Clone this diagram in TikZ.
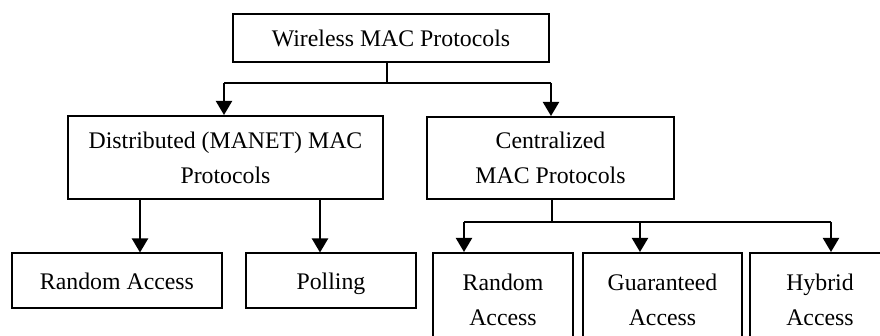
\documentclass[tikz,border=0pt]{standalone}
\usepackage{fontspec}
\setmainfont{Liberation Serif}
\usetikzlibrary{arrows.meta}
\tikzset{
  box/.style={draw, line width=1pt, rectangle, inner sep=0pt, align=center,
    font=\fontsize{11.9}{17.5}\selectfont},
  onerow/.style={text depth=0pt},
  link/.style={line width=1pt},
  arr/.style={line width=1pt, -{Triangle[width=8pt,length=7pt]}}
}
\begin{document}
\begin{tikzpicture}[x=0.5pt,y=-0.5pt]
\useasboundingbox (0,0) rectangle (880,336);
\clip (0,0) rectangle (880,336);
% boxes
\node[box, onerow, minimum width=158pt, minimum height=24pt] (top) at (391,38) {Wireless MAC Protocols};
\node[box, minimum width=157.5pt, minimum height=41.5pt] (dist) at (225.5,157.5) {Distributed (MANET) MAC\\Protocols};
\node[box, minimum width=123.5pt, minimum height=41pt] (cent) at (550.5,158) {Centralized\\MAC Protocols};
\node[box, onerow, minimum width=105pt, minimum height=27.5pt] (ra1) at (117,281) {Random Access};
\node[box, onerow, minimum width=85pt, minimum height=27.5pt] (poll) at (331,281) {Polling};
\node[box, minimum width=70pt, minimum height=46.5pt] (ra2) at (503,299.5) {Random\\Access};
\node[box, minimum width=79.5pt, minimum height=46.5pt] (guar) at (662.5,299.5) {Guaranteed\\Access};
\node[box, minimum width=70pt, minimum height=46.5pt] (hyb) at (820,299.5) {Hybrid\\Access};
% junction points
\coordinate (j1) at (387,83);
\coordinate (lj) at (224,83);
\coordinate (rj) at (551,83);
\coordinate (a1) at (140,0);
\coordinate (a2) at (320,0);
\coordinate (j2) at (552,222);
\coordinate (b1) at (464,222);
\coordinate (b2) at (640,222);
\coordinate (b3) at (831,222);
% connectors: top level
\draw[link] (j1 |- top.south) -- (j1);
\draw[link] (lj) -- (rj);
\draw[arr] (lj) -- (lj |- dist.north);
\draw[arr] (rj) -- (rj |- cent.north);
% connectors: distributed branch
\draw[arr] (a1 |- dist.south) -- (a1 |- ra1.north);
\draw[arr] (a2 |- dist.south) -- (a2 |- poll.north);
% connectors: centralized branch
\draw[link] (j2 |- cent.south) -- (j2);
\draw[link] (b1) -- (b3);
\draw[arr] (b1) -- (b1 |- ra2.north);
\draw[arr] (b2) -- (b2 |- guar.north);
\draw[arr] (b3) -- (b3 |- hyb.north);
\end{tikzpicture}
\end{document}
